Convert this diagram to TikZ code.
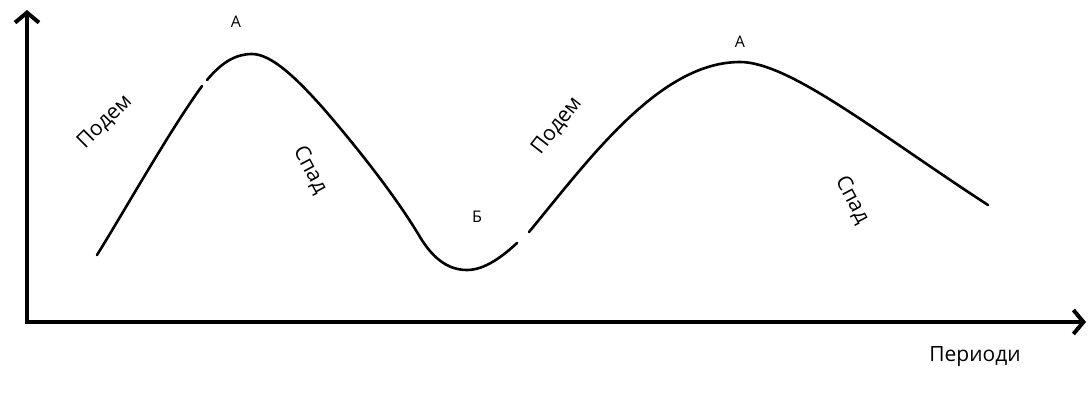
\documentclass[tikz,border=0pt]{standalone}
\usepackage{fontspec}
\setmainfont{Open Sans}
\usetikzlibrary{arrows.meta}
\begin{document}
\begin{tikzpicture}[x=1pt,y=-1pt,
  axis/.style={line width=4pt,-{Straight Barb[length=10pt,width=24pt,line width=4pt]}},
  curve/.style={line width=2.6pt,line cap=round,line join=round},
  lbl/.style={font=\fontsize{21}{24}\selectfont,inner sep=0pt},
  pt/.style={font=\fontsize{16}{18}\selectfont,inner sep=0pt}]
\useasboundingbox (0,0) rectangle (1089,394);
\coordinate (O) at (27,322);
\coordinate (Ytop) at (27,10);
\coordinate (Xend) at (1086,322);
\draw[axis] (O) -- (Ytop);
\draw[axis] ([xshift=-2pt]O) -- (Xend);
% curve
\coordinate (c0) at (97,255);
\coordinate (c1) at (202,86);
\coordinate (c2) at (207,80);
\coordinate (pk1) at (252,54);
\coordinate (c3) at (323,108);
\coordinate (c4) at (420,237);
\coordinate (tr) at (467,270);
\coordinate (c5) at (517,243);
\coordinate (c6) at (529,232);
\coordinate (pk2) at (740,62);
\coordinate (c7) at (988,205);
\draw[curve] (c0) .. controls (125,210) and (170,130) .. (c1);
\draw[curve] (c2) .. controls (222,62) and (236,54) .. (pk1)
  .. controls (272,54) and (298,80) .. (c3)
  .. controls (355,145) and (395,195) .. (c4)
  .. controls (432,257) and (447,270) .. (tr)
  .. controls (485,270) and (503,256) .. (c5);
\draw[curve] (c6) .. controls (590,158) and (660,62) .. (pk2)
  .. controls (790,62) and (880,135) .. (c7);
% labels
\node[pt] (a1) at (236,22) {А};
\node[pt] (a2) at (740,42) {А};
\node[pt] (b1) at (477,217) {Б};
\node[lbl,rotate=45] (p1) at (105,122) {Подем};
\node[lbl,rotate=-62] (s1) at (310,170) {Спад};
\node[lbl,rotate=52] (p2) at (557,126) {Подем};
\node[lbl,rotate=-62] (s2) at (852,200) {Спад};
\node[lbl] (per) at (975,357) {Периоди};
\end{tikzpicture}
\end{document}
